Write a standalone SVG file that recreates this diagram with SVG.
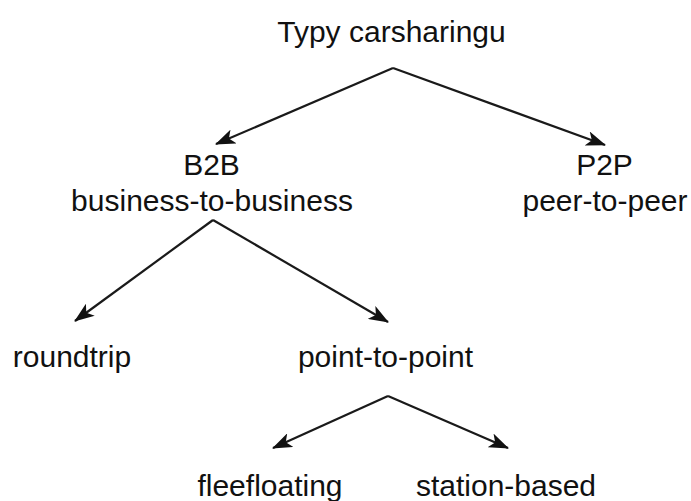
<svg xmlns="http://www.w3.org/2000/svg" width="691" height="501" viewBox="0 0 691 501">
<style>
text{font-family:"Liberation Sans",Arial,Helvetica,sans-serif;font-size:30px;fill:#111;text-anchor:middle}
.edge{stroke:#1a1a1a;stroke-width:2.2;fill:none}
</style>
<defs>
<marker id="arr" viewBox="0 0 20 15" refX="19" refY="7.5" markerWidth="20" markerHeight="15" markerUnits="userSpaceOnUse" orient="auto">
<path d="M0,0 L20,7.5 L0,15 L5,7.5 Z" fill="#111"/>
</marker>
</defs>
<rect width="691" height="501" fill="#fff"/>
<g id="connectors">
<line class="edge" x1="393" y1="68" x2="216" y2="144" marker-end="url(#arr)"/>
<line class="edge" x1="393" y1="68" x2="605" y2="145" marker-end="url(#arr)"/>
<line class="edge" x1="213" y1="220" x2="75" y2="321" marker-end="url(#arr)"/>
<line class="edge" x1="213" y1="220" x2="388" y2="322" marker-end="url(#arr)"/>
<line class="edge" x1="388" y1="396" x2="273" y2="448" marker-end="url(#arr)"/>
<line class="edge" x1="388" y1="396" x2="508" y2="448" marker-end="url(#arr)"/>
</g>
<g id="root"><text x="391.5" y="42">Typy carsharingu</text></g>
<g id="b2b"><text x="211.5" y="175">B2B</text><text x="212" y="211">business-to-business</text></g>
<g id="p2p"><text x="604.5" y="175">P2P</text><text x="605" y="211">peer-to-peer</text></g>
<g id="roundtrip"><text x="72" y="367">roundtrip</text></g>
<g id="point-to-point"><text x="385.5" y="367">point-to-point</text></g>
<g id="fleefloating"><text x="270" y="496">fleefloating</text></g>
<g id="station-based"><text x="506" y="496">station-based</text></g>
</svg>
